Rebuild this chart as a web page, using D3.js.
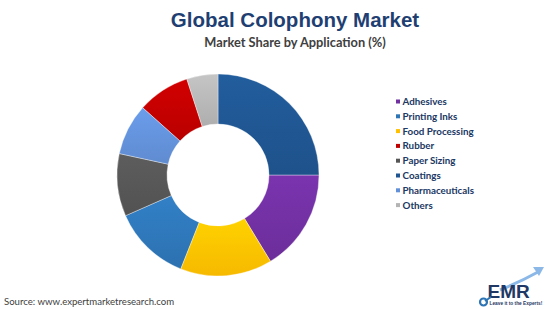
<!DOCTYPE html>
<html>
<head>
<meta charset="utf-8">
<script src="https://cdn.jsdelivr.net/npm/d3@7"></script>
<style>
  body { margin: 0; background: #fff; }
  svg { display: block; }
</style>
</head>
<body>
<div id="chart"></div>
<script>
// Global Colophony Market - donut of market share by application

// Legend order
let categories = ["Adhesives", "Printing Inks", "Food Processing", "Rubber",
                  "Paper Sizing", "Coatings", "Pharmaceuticals", "Others"];
let shares = [16.3, 12.4, 14.7, 8.4, 10.0, 25.0, 8.2, 5.0];
let colours = ["#7030a0", "#2e75b6", "#ffc000", "#c00000",
               "#555555", "#1f5590", "#6290d8", "#b4b4b4"];
// Order the slices run clockwise from 12 o'clock
let sliceOrder = ["Coatings", "Adhesives", "Food Processing", "Printing Inks",
                  "Paper Sizing", "Pharmaceuticals", "Rubber", "Others"];

let width = 550, height = 309;

let svg = d3.select("#chart").append("svg")
  .attr("width", width)
  .attr("height", height);

let data = categories.map((c, i) => ({ name: c, value: shares[i], colour: colours[i] }));

// Slight vertical shading on each slice, like the original
let defs = svg.append("defs");
data.forEach((d, i) => {
  let g = defs.append("linearGradient")
    .attr("id", "grad" + i)
    .attr("x1", 0).attr("y1", 0).attr("x2", 0).attr("y2", 1);
  g.append("stop").attr("offset", "0%").attr("stop-color", d3.color(d.colour).brighter(0.25));
  g.append("stop").attr("offset", "100%").attr("stop-color", d3.color(d.colour).darker(0.1));
});

// Titles
svg.append("text")
  .attr("x", 295).attr("y", 27)
  .attr("text-anchor", "middle")
  .style("font-family", "'Liberation Sans', Arial, sans-serif")
  .style("font-weight", "bold")
  .style("font-size", "20.5px")
  .style("fill", "#1f3f73")
  .text("Global Colophony Market");

svg.append("text")
  .attr("x", 295).attr("y", 47)
  .attr("text-anchor", "middle")
  .style("font-family", "Lato, sans-serif")
  .style("font-weight", "bold")
  .style("font-size", "12.8px")
  .style("fill", "#404040")
  .text("Market Share by Application (%)");

// Donut
let cx = 218, cy = 175, outerR = 101, innerR = 51;

let pie = d3.pie()
  .value(d => d.value)
  .sort((a, b) => sliceOrder.indexOf(a.name) - sliceOrder.indexOf(b.name));

let arc = d3.arc().innerRadius(innerR).outerRadius(outerR);

svg.append("g")
  .attr("transform", "translate(" + cx + "," + cy + ")")
  .selectAll("path")
  .data(pie(data))
  .enter().append("path")
  .attr("d", arc)
  .attr("fill", d => "url(#grad" + categories.indexOf(d.data.name) + ")")
  .attr("stroke", "#ffffff")
  .attr("stroke-opacity", 0.6)
  .attr("stroke-width", 0.6);

// Legend
let legendX = 396, legendY = 101.5, rowH = 14.8;
let legend = svg.append("g")
  .selectAll("g")
  .data(data)
  .enter().append("g")
  .attr("transform", (d, i) => "translate(" + legendX + "," + (legendY + i * rowH) + ")");

legend.append("rect")
  .attr("x", 0).attr("y", -2)
  .attr("width", 4).attr("height", 4)
  .attr("fill", d => d.colour);

legend.append("text")
  .attr("x", 6.5).attr("y", 3.5)
  .style("font-family", "Lato, sans-serif")
  .style("font-weight", "bold")
  .style("font-size", "9.8px")
  .style("fill", "#203864")
  .text(d => d.name);

// Source line
svg.append("text")
  .attr("x", 4).attr("y", 305)
  .style("font-family", "Lato, sans-serif")
  .style("font-size", "9.6px")
  .style("fill", "#404040")
  .text("Source: www.expertmarketresearch.com");

// EMR logo, roughly
let logo = svg.append("g");
logo.append("path")
  .attr("d", "M500,290 Q520,282 538,272")
  .attr("fill", "none")
  .attr("stroke", "#8cb8e8")
  .attr("stroke-width", 3);
logo.append("path")
  .attr("d", "M533,267 L544,267 L539,276 Z")
  .attr("fill", "#8cb8e8");
logo.append("text")
  .attr("x", 487.5).attr("y", 297.5)
  .style("font-family", "'Liberation Sans', Arial, sans-serif")
  .style("font-weight", "bold")
  .style("font-size", "19px")
  .style("fill", "#1f3864")
  .text("EMR");
logo.append("path")
  .attr("d", "M485,301 L491,297")
  .attr("stroke", "#2e75b6")
  .attr("stroke-width", 2);
logo.append("circle")
  .attr("cx", 483.5).attr("cy", 302).attr("r", 3.5)
  .attr("fill", "none")
  .attr("stroke", "#2e75b6")
  .attr("stroke-width", 2.2);
logo.append("text")
  .attr("x", 489.5).attr("y", 305)
  .style("font-family", "'Liberation Sans', Arial, sans-serif")
  .style("font-weight", "bold")
  .style("font-size", "4.8px")
  .style("fill", "#1f3864")
  .text("Leave it to the Experts!");
</script>
</body>
</html>
